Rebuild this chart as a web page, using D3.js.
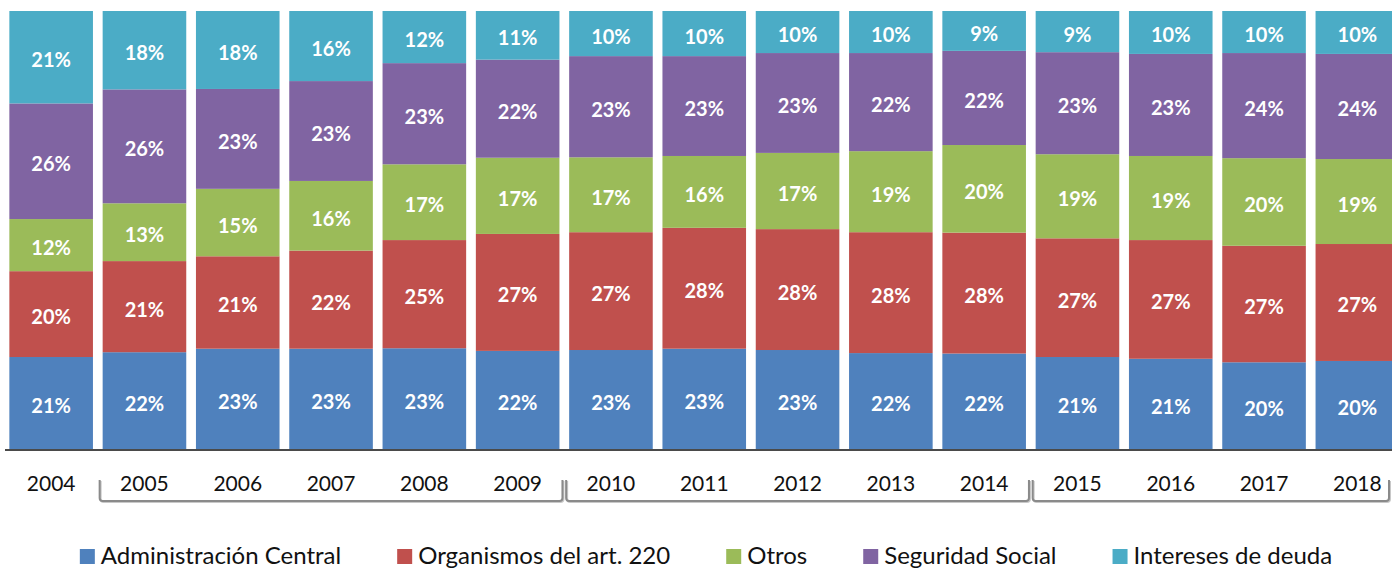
<!DOCTYPE html>
<html>
<head>
<meta charset="utf-8">
<script src="https://cdn.jsdelivr.net/npm/d3@7.9.0/dist/d3.min.js"></script>
<style>
  body { margin: 0; background: #fff; }
  svg { display: block; font-family: Lato, 'Open Sans', sans-serif; }
</style>
</head>
<body>
<svg id="chart" width="1392" height="569"></svg>
<script>
const years = ['2004', '2005', '2006', '2007', '2008', '2009', '2010', '2011',
  '2012', '2013', '2014', '2015', '2016', '2017', '2018'];

// shares in % (rounded values match the labels)
const adminCentral = [21.0, 22.1, 22.9, 22.9, 23.0, 22.4, 22.6, 22.9, 22.6, 21.9, 21.8, 21.0, 20.6, 19.8, 20.1];
const organismos = [19.6, 20.8, 21.1, 22.4, 24.7, 26.7, 26.9, 27.6, 27.6, 27.6, 27.6, 27.1, 27.1, 26.6, 26.7];
const otros = [11.9, 13.2, 15.4, 15.9, 17.3, 17.4, 17.1, 16.4, 17.4, 18.5, 20.0, 19.2, 19.2, 20.0, 19.4];
const seguridadSocial = [26.4, 26.0, 22.8, 22.8, 23.1, 22.4, 23.1, 22.8, 22.8, 22.4, 21.5, 23.3, 23.3, 24.0, 24.0];
const intereses = [21.1, 17.9, 17.8, 16.0, 11.9, 11.1, 10.3, 10.3, 9.6, 9.6, 9.1, 9.4, 9.8, 9.6, 9.8];

const seriesNames = ['Administración Central', 'Organismos del art. 220', 'Otros',
  'Seguridad Social', 'Intereses de deuda'];
const seriesColors = ['#4F81BD', '#C0504D', '#9BBB59', '#8064A2', '#4BACC6'];

// year groups marked with a bracket under the axis
const brackets = [['2005', '2009'], ['2010', '2014'], ['2015', '2018']];

const width = 1392, height = 569;
const svg = d3.select('#chart');

const keys = ['admin', 'org', 'otros', 'seg', 'int'];
const allSeries = [adminCentral, organismos, otros, seguridadSocial, intereses];
const rows = years.map((year, i) => {
  const row = { year };
  keys.forEach((k, j) => row[k] = allSeries[j][i]);
  return row;
});

const stacked = d3.stack().keys(keys).offset(d3.stackOffsetExpand)(rows);

const x = d3.scaleBand()
  .domain(years)
  .range([4.5, 1404])
  .paddingInner(0.104)
  .paddingOuter(0.052);

const y = d3.scaleLinear().domain([0, 1]).range([449, 11]);

const groups = svg.selectAll('g.series')
  .data(stacked)
  .join('g')
  .attr('class', 'series')
  .attr('fill', (d, i) => seriesColors[i]);

groups.selectAll('rect')
  .data(d => d)
  .join('rect')
  .attr('x', d => x(d.data.year))
  .attr('y', d => y(d[1]))
  .attr('width', x.bandwidth())
  .attr('height', d => y(d[0]) - y(d[1]));

// value labels
stacked.forEach((s, i) => {
  svg.append('g')
    .selectAll('text')
    .data(s)
    .join('text')
    .attr('x', d => x(d.data.year) + x.bandwidth() / 2)
    .attr('y', d => (y(d[0]) + y(d[1])) / 2)
    .attr('dy', '0.5em')
    .attr('text-anchor', 'middle')
    .attr('fill', '#fff')
    .attr('font-weight', 700)
    .attr('font-size', 20)
    .text(d => Math.round(d.data[s.key]) + '%');
});

// baseline
svg.append('line')
  .attr('x1', 5).attr('x2', width)
  .attr('y1', y(0) + 1).attr('y2', y(0) + 1)
  .attr('stroke', '#4a4a4a')
  .attr('stroke-width', 2);

// year labels
svg.append('g')
  .selectAll('text')
  .data(years)
  .join('text')
  .attr('x', d => x(d) + x.bandwidth() / 2)
  .attr('y', 491)
  .attr('text-anchor', 'middle')
  .attr('font-size', 21)
  .attr('fill', '#111')
  .text(d => d);

// brackets
const bTop = 480, bBot = 501, r = 3;
brackets.forEach(([a, b]) => {
  const left = x(a) - 3;
  const right = Math.min(x(b) + x.bandwidth() + 3, width - 3);
  const path = `M${left},${bTop} V${bBot - r} Q${left},${bBot} ${left + r},${bBot} H${right - r} Q${right},${bBot} ${right},${bBot - r} V${bTop}`;
  svg.append('path')
    .attr('d', path)
    .attr('fill', 'none')
    .attr('stroke', '#c8c8c8')
    .attr('stroke-width', 2)
    .attr('transform', 'translate(1,1)');
  svg.append('path')
    .attr('d', path)
    .attr('fill', 'none')
    .attr('stroke', '#8a8a8a')
    .attr('stroke-width', 2);
});

// legend
const legend = svg.append('g');
const items = seriesNames.map((name, i) => {
  const g = legend.append('g');
  g.append('rect')
    .attr('width', 15).attr('height', 15)
    .attr('y', 549)
    .attr('fill', seriesColors[i]);
  const t = g.append('text')
    .attr('x', 21)
    .attr('y', 564)
    .attr('font-size', 24)
    .attr('fill', '#111')
    .text(name);
  return { g, w: 21 + t.node().getComputedTextLength() };
});
const itemGap = 56;
const total = d3.sum(items, d => d.w) + itemGap * (items.length - 1);
let cx = 706 - total / 2;
items.forEach(it => {
  it.g.attr('transform', `translate(${cx},0)`);
  cx += it.w + itemGap;
});
</script>
</body>
</html>
